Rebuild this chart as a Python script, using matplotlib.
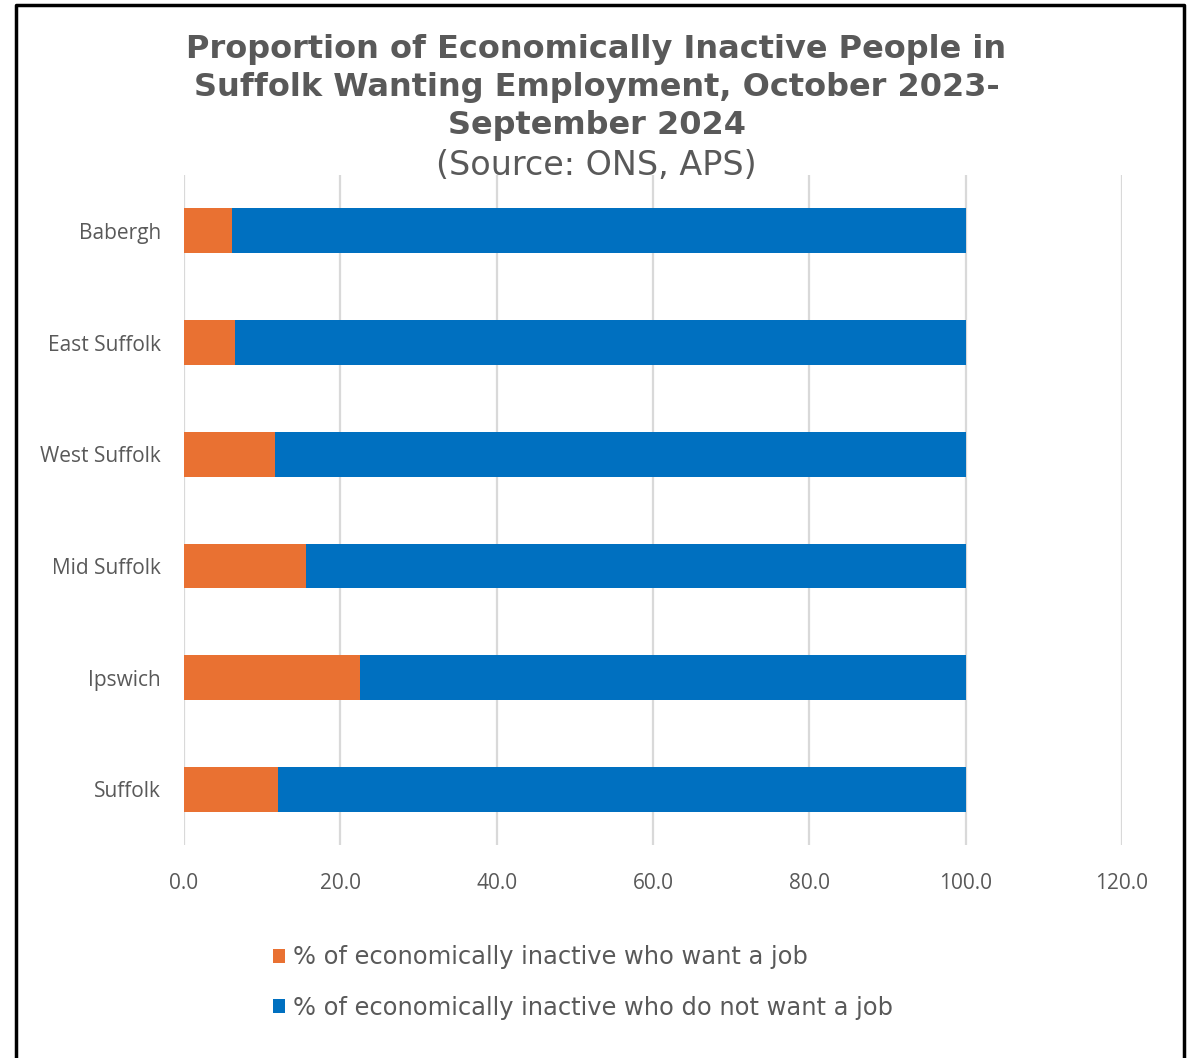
import matplotlib.pyplot as plt

# Economically inactive people by area, Oct 2023 - Sep 2024
areas = ['Babergh', 'East Suffolk', 'West Suffolk', 'Mid Suffolk', 'Ipswich', 'Suffolk']
want_job = [6.1, 6.5, 11.7, 15.6, 22.5, 12.0]
not_want_job = [100 - v for v in want_job]
x_ticks = [0, 20, 40, 60, 80, 100, 120]

orange = '#E97132'
blue = '#0070C0'
grey = '#595959'

fig = plt.figure(figsize=(11.93, 10.58), dpi=100)
ax = fig.add_axes([0.1542, 0.2013, 0.7863, 0.6333])

ypos = list(range(len(areas)))[::-1]
ax.barh(ypos, want_job, height=0.4, color=orange, label='% of economically inactive who want a job', zorder=3)
ax.barh(ypos, not_want_job, left=want_job, height=0.4, color=blue,
        label='% of economically inactive who do not want a job', zorder=3)

ax.set_xlim(0, 120)
ax.set_ylim(-0.5, len(areas) - 0.5)
ax.set_xticks(x_ticks)
ax.set_xticklabels(['%.1f' % t for t in x_ticks], fontsize=15, color=grey, family='Open Sans')
ax.set_yticks(ypos)
ax.set_yticklabels(areas, fontsize=15, color=grey, family='Open Sans')
ax.tick_params(length=0, pad=16.5, axis='y')
ax.tick_params(length=0, pad=20, axis='x')
ax.xaxis.grid(True, color='#D9D9D9', linewidth=1.6, zorder=0)
for s in ax.spines.values():
    s.set_visible(False)

fig.text(0.5, 0.968, 'Proportion of Economically Inactive People in\nSuffolk Wanting Employment, October 2023-\nSeptember 2024',
         ha='center', va='top', fontsize=23, fontweight='bold', color=grey, linespacing=1.3)
fig.text(0.5, 0.835, '(Source: ONS, APS)', ha='center', va='baseline', fontsize=24, color=grey)

fig.legend(loc='upper left', bbox_to_anchor=(0.219, 0.118), frameon=False, fontsize=17.4,
           labelcolor=grey, handlelength=0.5, handleheight=0.5, handletextpad=0.3,
           labelspacing=1.1, borderpad=0)

# outer frame (open at the bottom)
fig.add_artist(plt.Line2D([0.0135, 0.0135, 0.9925, 0.9925], [0.0, 0.9957, 0.9957, 0.0],
                          transform=fig.transFigure, color='black', linewidth=2.5))

fig.savefig('out.png', dpi=100)
